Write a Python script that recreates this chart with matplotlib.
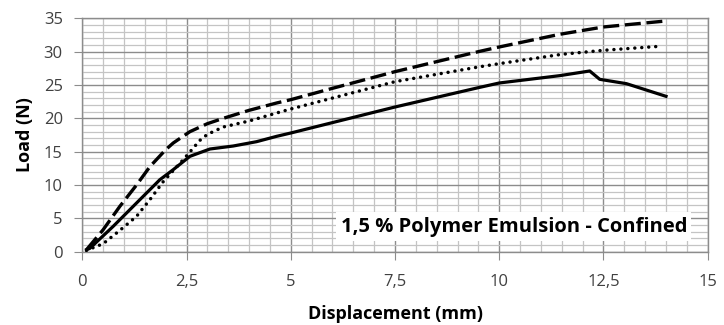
import matplotlib
matplotlib.use('Agg')
import matplotlib.pyplot as plt
from matplotlib.ticker import MultipleLocator, FuncFormatter

plt.rcParams['font.family'] = ['Open Sans', 'DejaVu Sans']

# load-displacement curves (mm, N)
dash_x = [0.1, 0.5, 0.9, 1.3, 1.62, 2.0, 2.18, 2.58, 3.0, 3.38, 4.0, 4.66, 5.0,
          6.0, 7.5, 9.5, 10.0, 11.45, 12.5, 14.0]
dash_y = [0.3, 3.3, 6.8, 10.0, 12.75, 15.3, 16.3, 18.0, 19.2, 20.0, 21.2, 22.3, 22.8,
          24.5, 27.0, 30.0, 30.7, 32.6, 33.7, 34.6]

dot_x = [0.1, 0.5, 0.9, 1.3, 1.62, 1.94, 2.2, 2.42, 2.82, 3.0, 3.38, 4.0, 4.66,
         5.0, 7.5, 9.5, 10.0, 11.5, 12.5, 13.85]
dot_y = [0.2, 1.2, 3.2, 5.3, 7.8, 10.5, 12.3, 13.8, 16.7, 17.6, 18.7, 19.6, 20.8,
         21.4, 25.5, 27.7, 28.2, 29.6, 30.2, 30.8]

solid_x = [0.1, 0.18, 0.74, 1.3, 1.86, 2.18, 2.58, 3.06, 3.62, 4.18, 4.66, 5.0,
           7.5, 9.5, 10.0, 11.45, 12.17, 12.41, 13.05, 14.0]
solid_y = [0.3, 0.5, 3.8, 7.3, 10.8, 12.3, 14.3, 15.4, 15.85, 16.5, 17.3, 17.8,
           21.7, 24.6, 25.3, 26.4, 27.1, 25.85, 25.2, 23.3]

fig = plt.figure(figsize=(7.24, 3.25), dpi=100)
ax = fig.add_axes([0.1137, 0.2255, 0.8638, 0.7182])

ax.plot(dash_x, dash_y, color='black', lw=2.4, linestyle=(0, (4.8, 1.7)), zorder=3)
ax.plot(dot_x, dot_y, color='black', lw=2.5, linestyle=(0, (0.01, 2.0)),
        dash_capstyle='round', zorder=3)
ax.plot(solid_x, solid_y, color='black', lw=2.3, solid_joinstyle='round', zorder=3)

ax.set_xlim(0, 15)
ax.set_ylim(0, 35)
ax.xaxis.set_major_locator(MultipleLocator(2.5))
ax.xaxis.set_minor_locator(MultipleLocator(0.5))
ax.yaxis.set_major_locator(MultipleLocator(5))
ax.yaxis.set_minor_locator(MultipleLocator(1))
ax.xaxis.set_major_formatter(FuncFormatter(lambda v, p: ('%g' % v).replace('.', ',')))

ax.grid(which='major', color='#8c8c8c', lw=1.0)
ax.grid(which='minor', color='#c4c4c4', lw=0.9)
ax.set_axisbelow(True)
for s in ax.spines.values():
    s.set_color('#8c8c8c')
    s.set_linewidth(1.0)

ax.tick_params(which='major', length=6, color='#8c8c8c', labelsize=12,
               labelcolor='#404040')
ax.tick_params(axis='x', pad=10)
ax.tick_params(axis='y', pad=8)
ax.tick_params(which='minor', length=0)

ax.set_xlabel('Displacement (mm)', fontsize=13, fontweight='bold', labelpad=11)
ax.set_ylabel('Load (N)', fontsize=13, fontweight='bold', labelpad=7)

ax.text(0.69, 0.108, '1,5 % Polymer Emulsion - Confined', transform=ax.transAxes,
        ha='center', va='center', fontsize=14.5, fontweight='bold', zorder=4,
        bbox=dict(facecolor='white', edgecolor='none', pad=3))

fig.savefig('out.png', dpi=100)
